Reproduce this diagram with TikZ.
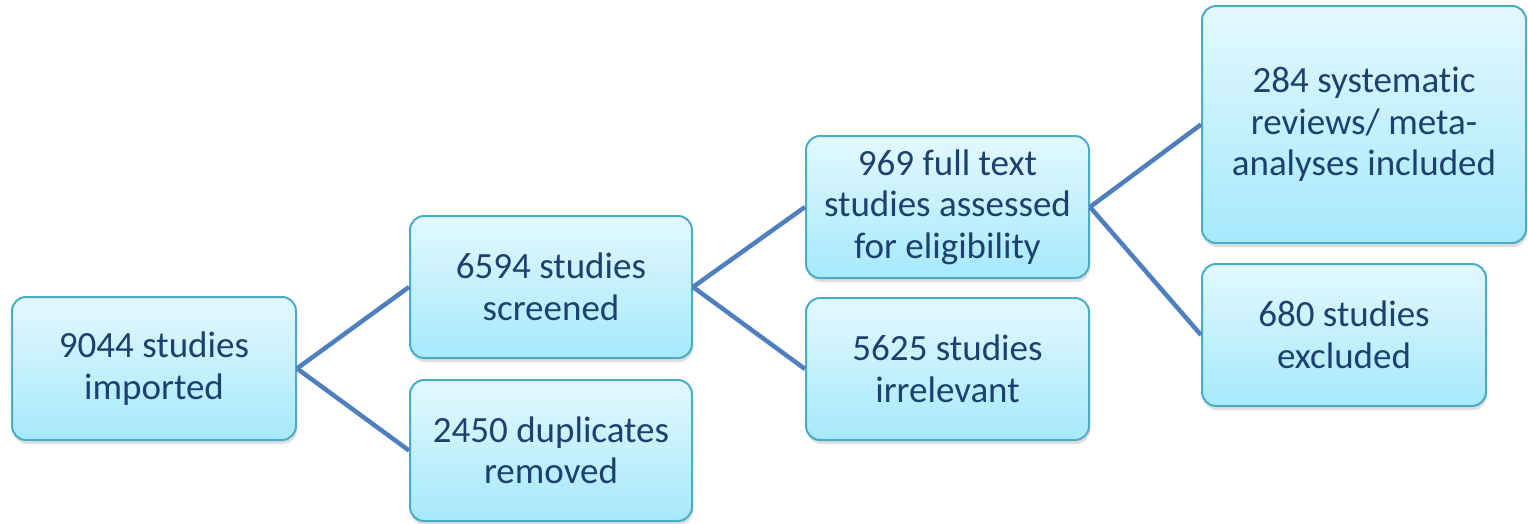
\documentclass[tikz,border=0pt]{standalone}
\usepackage{fontspec}
\setmainfont{Carlito}[Ligatures={NoCommon}]
\usetikzlibrary{shadows}
\definecolor{boxtop}{HTML}{E3F8FE}
\definecolor{boxbot}{HTML}{A6E9FC}
\definecolor{boxline}{HTML}{4AACC6}
\definecolor{txt}{HTML}{1C416F}
\definecolor{conn}{HTML}{4F7FBD}
\tikzset{
  flowbox/.style={draw=boxline, line width=2pt, rounded corners=14pt,
    top color=boxtop, bottom color=boxbot, inner sep=0pt, align=center,
    text=txt, font=\fontsize{37}{41.5}\selectfont,
    drop shadow={shadow xshift=1pt, shadow yshift=-4pt, opacity=0.25}},
  link/.style={draw=conn, line width=4.5pt}
}
\begin{document}
\begin{tikzpicture}[x=1pt,y=-1pt]
\useasboundingbox (0,0) rectangle (1528,523);
\node[flowbox, minimum width=284pt, minimum height=143pt] (a) at (154,368.5) {9044 studies\\imported};
\node[flowbox, minimum width=282pt, minimum height=142pt] (b) at (551,287) {6594 studies\\screened};
\node[flowbox, minimum width=282pt, minimum height=141pt] (c) at (551,450.5) {2450 duplicates\\removed};
\node[flowbox, minimum width=283pt, minimum height=142pt] (d) at (947.5,207) {969 full text\\studies assessed\\for eligibility};
\node[flowbox, minimum width=283pt, minimum height=142pt] (e) at (947.5,369) {5625 studies\\irrelevant};
\node[flowbox, minimum width=324pt, minimum height=237pt] (f) at (1364,124.5) {284 systematic\\reviews/ meta-\\analyses included};
\node[flowbox, minimum width=284pt, minimum height=142pt] (g) at (1344,335) {680 studies\\excluded};
\draw[link] (a.east) -- (b.west);
\draw[link] (a.east) -- (c.west);
\draw[link] (b.east) -- (d.west);
\draw[link] (b.east) -- (e.west);
\draw[link] (d.east) -- (f.west);
\draw[link] (d.east) -- (g.west);
\end{tikzpicture}
\end{document}
